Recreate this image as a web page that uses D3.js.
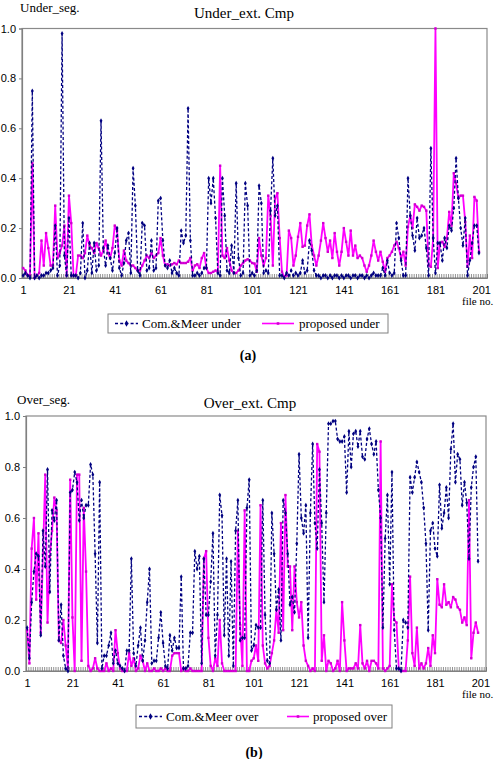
<!DOCTYPE html>
<html><head><meta charset="utf-8">
<script src="https://cdn.jsdelivr.net/npm/d3@7"></script>
<style>body{margin:0;background:#fff}svg{display:block}</style>
</head><body>
<svg id="chart" width="496" height="759"></svg>
<script>
// Panel (a): under-segmentation, file no. 1..200
const underCM = [
 0.01,0.02,0.01,0.00,0.75,0.00,0.01,0.00,0.01,0.01,
 0.02,0.02,0.03,0.04,0.21,0.01,0.05,0.98,0.09,0.01,
 0.24,0.01,0.01,0.01,0.00,0.02,0.22,0.00,0.03,0.14,
 0.02,0.14,0.03,0.05,0.63,0.12,0.05,0.13,0.08,0.03,
 0.10,0.20,0.04,0.01,0.06,0.15,0.18,0.02,0.44,0.29,
 0.03,0.01,0.22,0.21,0.03,0.04,0.15,0.03,0.04,0.31,
 0.32,0.15,0.05,0.04,0.07,0.02,0.04,0.02,0.01,0.19,
 0.14,0.17,0.68,0.15,0.01,0.01,0.02,0.01,0.02,0.04,
 0.04,0.40,0.30,0.40,0.24,0.02,0.01,0.40,0.25,0.03,
 0.02,0.13,0.02,0.38,0.08,0.01,0.02,0.38,0.29,0.01,
 0.02,0.01,0.03,0.37,0.30,0.02,0.03,0.02,0.27,0.48,
 0.25,0.29,0.01,0.01,0.00,0.02,0.01,0.03,0.01,0.02,
 0.01,0.02,0.07,0.02,0.03,0.15,0.11,0.03,0.01,0.01,
 0.00,0.01,0.01,0.00,0.01,0.00,0.01,0.01,0.00,0.01,
 0.00,0.01,0.01,0.00,0.01,0.01,0.00,0.01,0.01,0.00,
 0.01,0.00,0.01,0.02,0.01,0.01,0.01,0.04,0.01,0.07,
 0.02,0.01,0.02,0.22,0.16,0.07,0.01,0.01,0.40,0.25,
 0.17,0.11,0.24,0.16,0.17,0.20,0.12,0.01,0.52,0.16,
 0.02,0.14,0.14,0.07,0.16,0.12,0.21,0.19,0.28,0.48,
 0.32,0.20,0.13,0.24,0.01,0.07,0.14,0.21,0.21,0.10];
const underProp = [
 0.04,0.03,0.01,0.01,0.46,0.00,0.01,0.02,0.15,0.05,
 0.18,0.12,0.05,0.05,0.29,0.08,0.10,0.13,0.21,0.01,
 0.33,0.22,0.01,0.01,0.09,0.09,0.08,0.10,0.17,0.13,
 0.12,0.10,0.14,0.12,0.09,0.11,0.15,0.10,0.08,0.12,
 0.21,0.19,0.07,0.05,0.11,0.07,0.06,0.05,0.05,0.04,
 0.03,0.03,0.05,0.07,0.09,0.08,0.10,0.08,0.09,0.10,
 0.16,0.09,0.05,0.055,0.05,0.055,0.06,0.055,0.07,0.06,
 0.06,0.06,0.065,0.08,0.03,0.05,0.055,0.04,0.08,0.10,
 0.04,0.02,0.02,0.025,0.03,0.025,0.45,0.09,0.08,0.12,
 0.07,0.03,0.02,0.02,0.03,0.05,0.06,0.07,0.075,0.07,
 0.06,0.058,0.025,0.16,0.09,0.05,0.08,0.33,0.25,0.05,
 0.32,0.34,0.16,0.025,0.005,0.01,0.19,0.16,0.05,0.09,
 0.165,0.22,0.125,0.13,0.21,0.255,0.13,0.09,0.05,0.09,
 0.15,0.22,0.16,0.105,0.15,0.08,0.18,0.105,0.05,0.105,
 0.20,0.145,0.09,0.19,0.09,0.13,0.08,0.09,0.08,0.05,
 0.025,0.05,0.09,0.15,0.105,0.07,0.105,0.065,0.025,0.08,
 0.09,0.105,0.13,0.145,0.12,0.08,0.105,0.05,0.205,0.25,
 0.20,0.295,0.285,0.27,0.29,0.285,0.27,0.05,0.045,0.16,
 1.00,0.04,0.14,0.145,0.125,0.16,0.265,0.21,0.42,0.38,
 0.32,0.33,0.33,0.225,0.045,0.17,0.08,0.325,0.31,0.105];
// Panel (b): over-segmentation, file no. 1..200
const overCM = [
 0.17,0.05,0.27,0.39,0.46,0.45,0.14,0.55,0.41,0.79,
 0.31,0.63,0.59,0.67,0.12,0.26,0.06,0.01,0.00,0.70,
 0.71,0.78,0.74,0.59,0.67,0.60,0.65,0.65,0.81,0.77,
 0.46,0.11,0.74,0.01,0.06,0.06,0.10,0.15,0.03,0.08,
 0.03,0.02,0.01,0.00,0.08,0.08,0.44,0.07,0.02,0.10,
 0.17,0.04,0.12,0.27,0.40,0.03,0.04,0.04,0.13,0.23,
 0.11,0.02,0.01,0.14,0.08,0.13,0.09,0.09,0.37,0.01,
 0.01,0.02,0.15,0.15,0.47,0.40,0.45,0.03,0.44,0.22,
 0.22,0.35,0.54,0.06,0.22,0.69,0.61,0.14,0.44,0.06,
 0.43,0.02,0.55,0.67,0.12,0.13,0.13,0.64,0.75,0.08,
 0.10,0.18,0.17,0.17,0.67,0.22,0.04,0.03,0.62,0.46,
 0.24,0.32,0.12,0.67,0.62,0.46,0.26,0.29,0.23,0.50,
 0.85,0.60,0.54,0.65,0.13,0.62,0.89,0.58,0.48,0.79,
 0.58,0.27,0.62,0.97,0.97,0.98,0.98,0.91,0.90,0.90,
 0.92,0.70,0.94,0.80,0.93,0.94,0.88,0.94,0.84,0.83,
 0.91,0.95,0.89,0.85,0.90,0.71,0.60,0.17,0.52,0.69,
 0.34,0.78,0.16,0.01,0.01,0.00,0.20,0.19,0.17,0.76,
 0.70,0.76,0.82,0.78,0.74,0.64,0.50,0.16,0.55,0.58,
 0.48,0.45,0.73,0.56,0.62,0.72,0.60,0.87,0.97,0.74,
 0.85,0.83,0.65,0.74,0.66,0.44,0.72,0.80,0.84,0.43];
const overProp = [
 0.16,0.03,0.48,0.60,0.28,0.54,0.15,0.46,0.77,0.19,
 0.45,0.55,0.68,0.63,0.12,0.11,0.20,0.10,0.01,0.75,
 0.21,0.00,0.77,0.77,0.04,0.64,0.39,0.02,0.00,0.01,
 0.05,0.01,0.00,0.00,0.00,0.03,0.00,0.01,0.00,0.16,
 0.07,0.01,0.00,0.00,0.00,0.07,0.02,0.05,0.00,0.01,
 0.06,0.04,0.00,0.03,0.00,0.00,0.01,0.00,0.00,0.01,
 0.00,0.01,0.00,0.00,0.06,0.07,0.07,0.07,0.00,0.01,
 0.00,0.00,0.01,0.00,0.00,0.00,0.00,0.00,0.44,0.47,
 0.13,0.02,0.00,0.05,0.02,0.20,0.03,0.00,0.00,0.00,
 0.00,0.00,0.00,0.55,0.18,0.02,0.63,0.00,0.00,0.04,
 0.05,0.10,0.04,0.65,0.10,0.03,0.01,0.02,0.07,0.12,
 0.24,0.15,0.58,0.16,0.69,0.41,0.41,0.16,0.41,0.27,
 0.21,0.27,0.10,0.04,0.02,0.00,0.01,0.00,0.89,0.86,
 0.04,0.14,0.00,0.04,0.03,0.00,0.01,0.04,0.00,0.27,
 0.12,0.00,0.01,0.01,0.01,0.03,0.01,0.18,0.03,0.01,
 0.04,0.00,0.04,0.04,0.03,0.01,0.90,0.01,0.00,0.01,
 0.02,0.34,0.20,0.19,0.01,0.00,0.00,0.00,0.12,0.37,
 0.07,0.02,0.17,0.01,0.03,0.01,0.03,0.09,0.02,0.14,
 0.07,0.36,0.26,0.25,0.34,0.26,0.27,0.25,0.29,0.28,
 0.25,0.24,0.19,0.21,0.18,0.67,0.05,0.15,0.19,0.15];

const xTickLabels = [1,21,41,61,81,101,121,141,161,181,201];
const yTickValues = [0,0.2,0.4,0.6,0.8,1.0];
const nCategories = 203;

const BLUE = '#000080', PINK = '#ff00ff', PINK_DARK = '#d000d0';
const SERIF = '"Liberation Serif","Times New Roman",serif';
const SANS = '"Liberation Sans",Arial,sans-serif';
const svg = d3.select('#chart');

function panel(c) {
  const x = d3.scaleLinear().domain([0.5, nCategories + 0.5]).range([c.left, c.right]);
  const y = d3.scaleLinear().domain([0, 1]).range([c.bottom, c.top]);
  const g = svg.append('g');

  g.append('rect').attr('x', c.left).attr('y', c.top)
    .attr('width', c.right - c.left).attr('height', c.bottom - c.top)
    .attr('fill', 'none').attr('stroke', '#8a8a8a').attr('stroke-width', 1.2);

  // y axis
  const ya = g.append('g').attr('transform', `translate(${c.left},0)`)
    .call(d3.axisLeft(y).tickValues(yTickValues).tickFormat(d3.format('.1f')).tickSize(3).tickPadding(3));
  ya.select('.domain').attr('stroke', '#808080').attr('stroke-width', 1.2);
  ya.selectAll('line').attr('stroke', '#808080');
  ya.selectAll('text').attr('font-family', SANS).attr('font-size', 11).attr('fill', '#000');

  // category hatch along the bottom
  const hatch = g.append('g').attr('transform', `translate(0,${c.bottom})`)
    .call(d3.axisBottom(x).tickValues(d3.range(0.5, nCategories + 1, 1)).tickSize(-4).tickFormat(''));
  hatch.select('.domain').attr('stroke', '#808080');
  hatch.selectAll('line').attr('stroke', '#777').attr('stroke-width', 0.8);

  // x labels
  const xa = g.append('g').attr('transform', `translate(0,${c.bottom})`)
    .call(d3.axisBottom(x).tickValues(xTickLabels).tickSize(0).tickPadding(c.labelPad));
  xa.select('.domain').remove();
  xa.selectAll('text').attr('font-family', SANS).attr('font-size', 11).attr('fill', '#000');

  g.append('text').attr('x', c.fileX).attr('y', c.fileY).text('file no.')
    .attr('font-family', SERIF).attr('font-size', 11);

  const line = d3.line().x((d, i) => x(i + 1)).y(d => y(d));

  // proposed (pink)
  g.append('path').datum(c.prop).attr('d', line).attr('fill', 'none')
    .attr('stroke', PINK).attr('stroke-width', 1.8).attr('stroke-linejoin', 'round');
  g.append('g').selectAll('rect').data(c.prop).join('rect')
    .attr('x', (d, i) => x(i + 1) - 1.2).attr('y', d => y(d) - 1.2)
    .attr('width', 2.4).attr('height', 2.4).attr('fill', PINK_DARK);

  // Com.&Meer (blue dashed)
  g.append('path').datum(c.cm).attr('d', line).attr('fill', 'none')
    .attr('stroke', BLUE).attr('stroke-width', 1.3).attr('stroke-dasharray', '3,2.2');
  const sym = d3.symbol().type(d3.symbolDiamond).size(7);
  g.append('g').selectAll('path').data(c.cm).join('path')
    .attr('transform', (d, i) => `translate(${x(i + 1)},${y(d)})`)
    .attr('d', sym).attr('fill', BLUE);

  // titles
  g.append('text').attr('x', c.yTitleX).attr('y', c.yTitleY).text(c.yTitle)
    .attr('font-family', SERIF).attr('font-size', 13);
  g.append('text').attr('x', c.titleX).attr('y', c.titleY).text(c.title)
    .attr('text-anchor', 'middle').attr('font-family', SERIF).attr('font-size', 15);

  // legend
  const L = c.legend;
  g.append('rect').attr('x', L.x0).attr('y', L.y0).attr('width', L.x1 - L.x0).attr('height', L.y1 - L.y0)
    .attr('fill', '#fff').attr('stroke', '#808080').attr('stroke-width', 1);
  const ly = (L.y0 + L.y1) / 2;
  g.append('line').attr('x1', L.b0).attr('x2', L.b1).attr('y1', ly).attr('y2', ly)
    .attr('stroke', BLUE).attr('stroke-width', 1.3).attr('stroke-dasharray', '3,2.2');
  g.append('path').attr('transform', `translate(${(L.b0 + L.b1) / 2},${ly})`)
    .attr('d', d3.symbol().type(d3.symbolDiamond).size(12)).attr('fill', BLUE);
  g.append('text').attr('x', L.bt).attr('y', ly + 4.5).text(L.cmLabel)
    .attr('font-family', SERIF).attr('font-size', 13);
  g.append('line').attr('x1', L.p0).attr('x2', L.p1).attr('y1', ly).attr('y2', ly)
    .attr('stroke', PINK).attr('stroke-width', 1.6);
  g.append('rect').attr('x', (L.p0 + L.p1) / 2 - 1.3).attr('y', ly - 1.3)
    .attr('width', 2.6).attr('height', 2.6).attr('fill', PINK_DARK);
  g.append('text').attr('x', L.pt).attr('y', ly + 4.5).text(L.propLabel)
    .attr('font-family', SERIF).attr('font-size', 13);

  g.append('text').attr('x', c.tagX).attr('y', c.tagY).text(c.tag)
    .attr('text-anchor', 'middle').attr('font-family', SERIF).attr('font-size', 14).attr('font-weight', 'bold');
}

panel({
  left: 22, right: 487, top: 28.5, bottom: 278, labelPad: 8,
  cm: underCM, prop: underProp,
  yTitle: 'Under_seg.', yTitleX: 20, yTitleY: 12,
  title: 'Under_ext. Cmp', titleX: 244, titleY: 18,
  fileX: 462, fileY: 305,
  legend: { x0: 108, x1: 388, y0: 314, y1: 333, b0: 115, b1: 138, bt: 142,
            p0: 262, p1: 294, pt: 299, cmLabel: 'Com.&Meer under', propLabel: 'proposed under' },
  tag: '(a)', tagX: 248, tagY: 360
});
panel({
  left: 26, right: 486, top: 416, bottom: 671, labelPad: 8,
  cm: overCM, prop: overProp,
  yTitle: 'Over_seg.', yTitleX: 17, yTitleY: 404,
  title: 'Over_ext. Cmp', titleX: 250, titleY: 408,
  fileX: 462, fileY: 698,
  legend: { x0: 136, x1: 392, y0: 705, y1: 728, b0: 139, b1: 162, bt: 166,
            p0: 287, p1: 309, pt: 313, cmLabel: 'Com.&Meer over', propLabel: 'proposed over' },
  tag: '(b)', tagX: 254, tagY: 757
});
</script>
</body></html>
